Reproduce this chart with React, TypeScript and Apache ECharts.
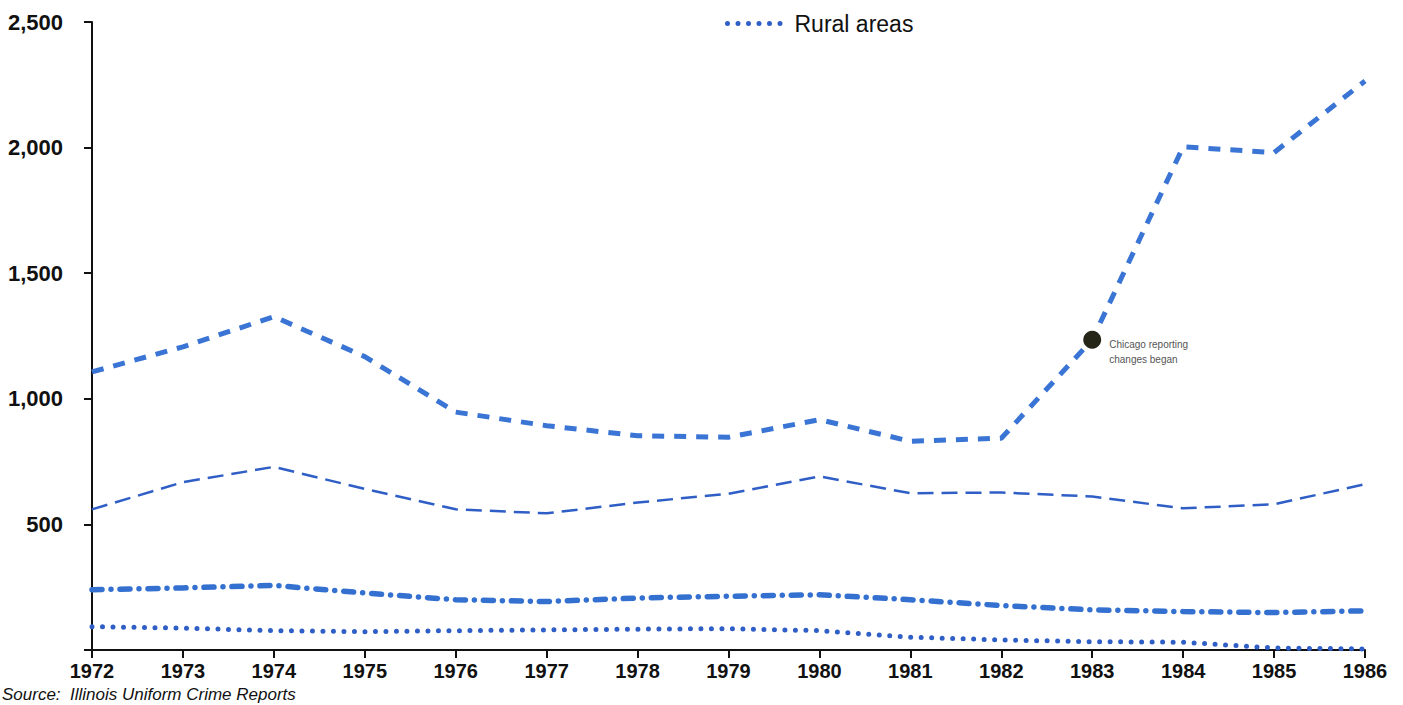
import React, { useEffect, useRef } from "react";
import * as echarts from "echarts";

const years = ["1972", "1973", "1974", "1975", "1976", "1977", "1978", "1979", "1980", "1981", "1982", "1983", "1984", "1985", "1986"];
const chicago = [1107, 1207, 1327, 1168, 947, 893, 853, 847, 917, 831, 843, 1235, 2003, 1980, 2265];
const otherUrban = [560, 668, 729, 641, 560, 544, 587, 622, 691, 624, 627, 611, 564, 580, 660];
const suburban = [240, 247, 257, 227, 200, 193, 207, 214, 220, 200, 177, 160, 153, 149, 156];
const rural = [93, 87, 77, 73, 77, 80, 83, 85, 77, 51, 40, 33, 31, 8, 4];
const yTicks = [0, 500, 1000, 1500, 2000, 2500];

export default function App() {
  const ref = useRef<HTMLDivElement>(null);
  useEffect(() => {
    const chart = echarts.init(ref.current!, null, { renderer: "svg" });
    const font = "'Liberation Sans', Arial, sans-serif";
    chart.setOption({
      animation: false,
      backgroundColor: "#ffffff",
      grid: { left: 92, right: 38, top: 22, bottom: 55 },
      legend: {
        data: ["Rural areas"],
        left: 720,
        top: 7,
        itemWidth: 62,
        itemHeight: 8,
        itemGap: 12,
        itemStyle: { opacity: 0 },
        lineStyle: { width: 5, type: [0, 10.5], cap: "round", color: "#2f5fc6" },
        textStyle: { fontFamily: font, fontSize: 23, color: "#111" },
      },
      xAxis: {
        type: "category",
        data: years,
        boundaryGap: false,
        axisLine: { lineStyle: { color: "#111", width: 2 } },
        axisTick: { show: true, length: 8, inside: false, lineStyle: { color: "#111", width: 2 } },
        axisLabel: { fontFamily: font, fontSize: 20, fontWeight: "bold", color: "#111", margin: 11 },
        splitLine: { show: false },
      },
      yAxis: {
        type: "value",
        min: yTicks[0],
        max: yTicks[yTicks.length - 1],
        interval: 500,
        axisLine: { show: true, lineStyle: { color: "#111", width: 2 } },
        axisTick: { show: true, length: 8, lineStyle: { color: "#111", width: 2 } },
        axisLabel: {
          fontFamily: font,
          fontSize: 22,
          fontWeight: "bold",
          color: "#111",
          margin: 29,
          formatter: (v: number) => (v === 0 ? "" : v.toLocaleString("en-US")),
        },
        splitLine: { show: false },
      },
      series: [
        {
          name: "Chicago",
          type: "line",
          data: chicago,
          symbol: "none",
          lineStyle: { color: "#3a74d4", width: 5, type: [12, 10] },
          markPoint: {
            symbol: "circle",
            symbolSize: 18,
            itemStyle: { color: "#262618" },
            data: [{ coord: ["1983", 1235], value: "" }],
            label: {
              show: true,
              position: "right",
              distance: 8,
              offset: [0, 12],
              formatter: "Chicago reporting\nchanges began",
              fontFamily: font,
              fontSize: 10,
              lineHeight: 15,
              color: "#555",
            },
          },
        },
        {
          name: "Other urban areas",
          type: "line",
          data: otherUrban,
          symbol: "none",
          lineStyle: { color: "#2f5fc6", width: 2.5, type: [16, 8] },
        },
        {
          name: "Suburban areas",
          type: "line",
          data: suburban,
          symbol: "none",
          lineStyle: { color: "#3470d0", width: 5.5, type: [10, 9, 0, 9], cap: "round" },
        },
        {
          name: "Rural areas",
          type: "line",
          data: rural,
          symbol: "none",
          itemStyle: { color: "#2f5fc6" },
          lineStyle: { color: "#2f5fc6", width: 5, type: [0, 10.5], cap: "round" },
        },
      ],
      graphic: [
        {
          type: "text",
          left: 2,
          top: 686,
          style: {
            text: "Source:  Illinois Uniform Crime Reports",
            font: "italic 17px 'Liberation Sans', Arial, sans-serif",
            fill: "#111",
          },
        },
      ],
    });
    return () => chart.dispose();
  }, []);
  return <div ref={ref} style={{ position: "fixed", left: 0, top: 0, width: 1403, height: 705 }} />;
}
